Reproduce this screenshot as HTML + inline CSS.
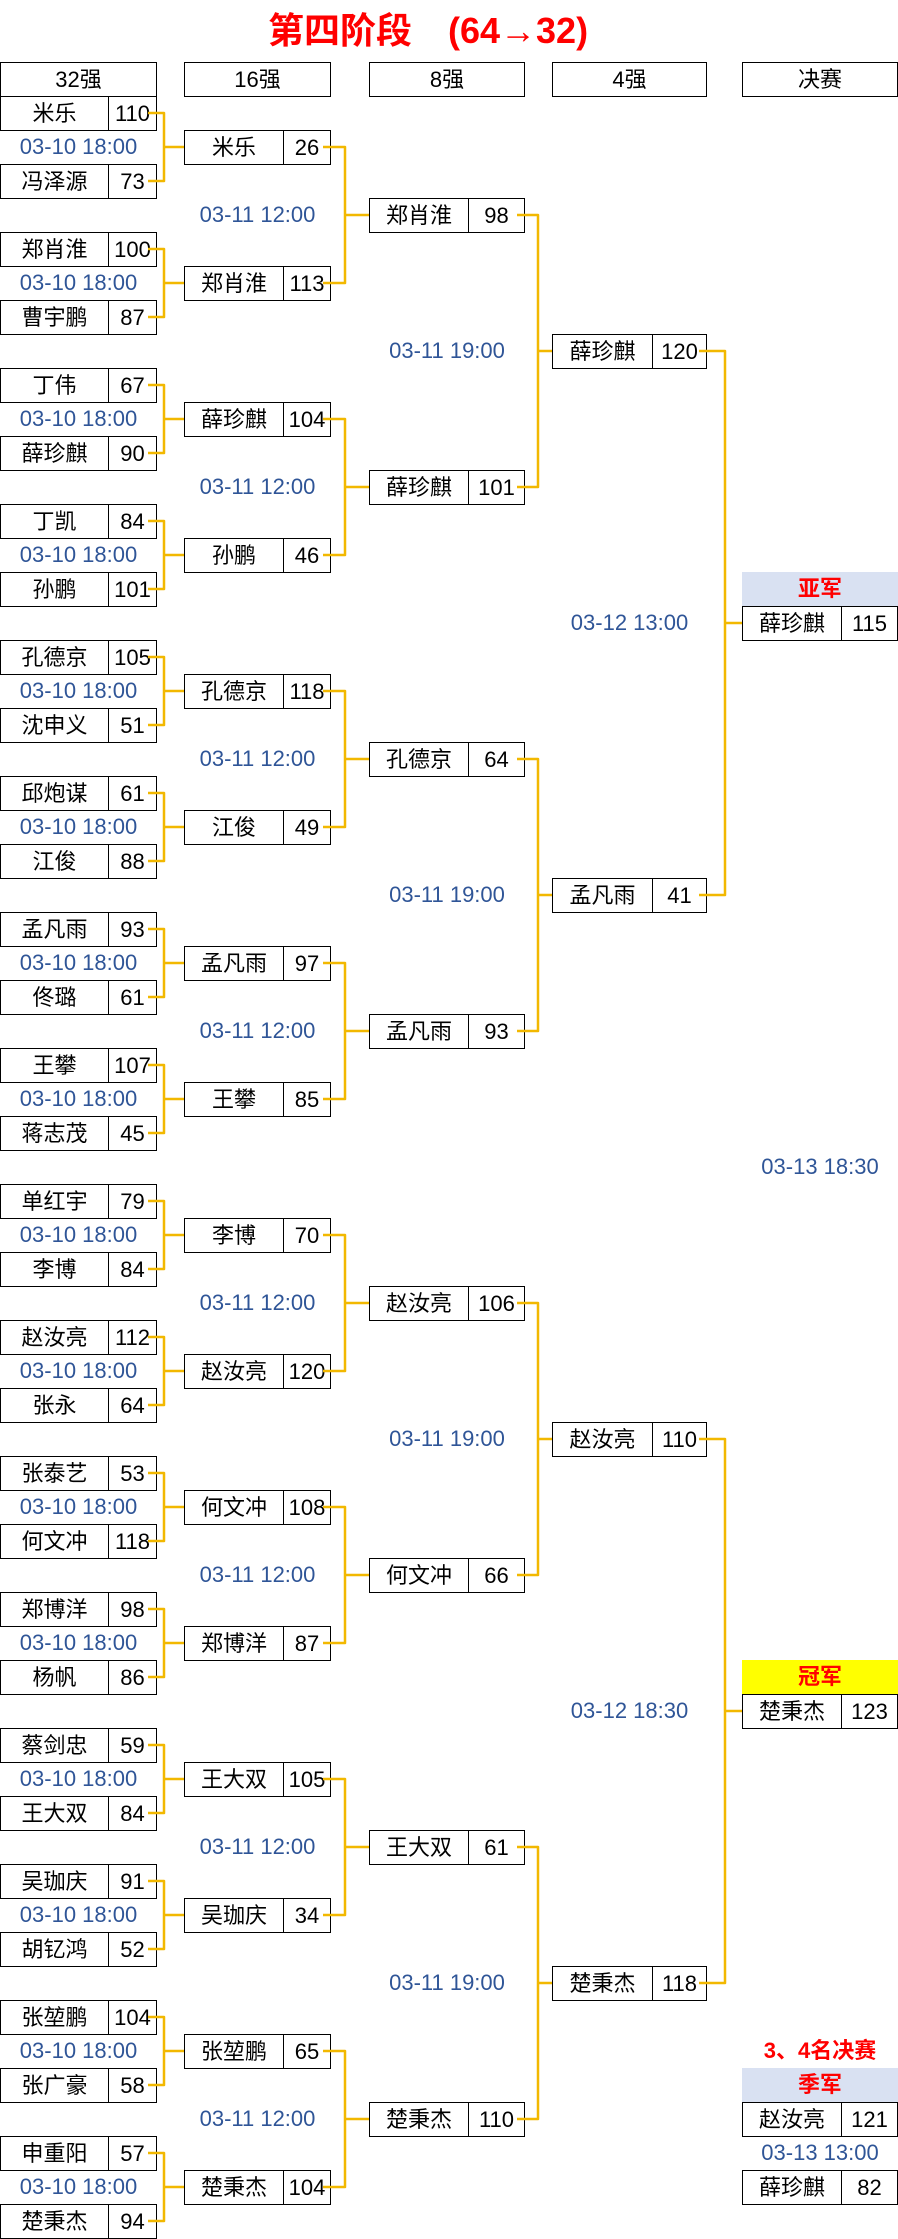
<!DOCTYPE html>
<html><head><meta charset="utf-8"><style>
body{margin:0;width:898px;height:2239px;position:relative;background:#fff;font-family:"Liberation Sans","Noto Sans CJK SC",sans-serif;overflow:hidden}
.b,.h{position:absolute;height:35px;border:1px solid #000;box-sizing:border-box;display:flex;font-size:22px;line-height:33px;background:#fff}
.h{justify-content:center}
.b i{font-style:normal;text-align:center;border-right:1px solid #000;box-sizing:border-box}
.b b{font-weight:normal;flex:1;text-align:center}
.A{left:0;width:157px}.A i{width:108px}
.B{left:184px;width:147px}.B i{width:99px}
.C{left:369px;width:156px}.C i{width:99px}
.D{left:552px;width:155px}.D i{width:100px}
.E{left:742px;width:156px}.E i{width:99px}
.d{position:absolute;height:34px;line-height:34px;font-size:22px;color:#2f5597;text-align:center}
.dA{left:0;width:157px}.dB{left:184px;width:147px}.dC{left:369px;width:156px}.dD{left:552px;width:155px}.dE{left:742px;width:156px}
.l{position:absolute;left:742px;width:156px;height:34px;line-height:34px;text-align:center;color:#f00;font-weight:bold;font-size:22px}
svg{position:absolute;left:0;top:0}
</style></head><body>
<div style="position:absolute;left:268px;top:6px;font-size:36px;font-weight:bold;color:#f00;white-space:nowrap;line-height:50px">第四阶段　(64→32)</div>
<div class="h A" style="top:62px">32强</div><div class="h B" style="top:62px">16强</div><div class="h C" style="top:62px">8强</div><div class="h D" style="top:62px">4强</div><div class="h E" style="top:62px">决赛</div>

<div class="b A" style="top:96px"><i>米乐</i><b>110</b></div><div class="d dA" style="top:130px">03-10 18:00</div><div class="b A" style="top:164px"><i>冯泽源</i><b>73</b></div>
<div class="b A" style="top:232px"><i>郑肖淮</i><b>100</b></div><div class="d dA" style="top:266px">03-10 18:00</div><div class="b A" style="top:300px"><i>曹宇鹏</i><b>87</b></div>
<div class="b A" style="top:368px"><i>丁伟</i><b>67</b></div><div class="d dA" style="top:402px">03-10 18:00</div><div class="b A" style="top:436px"><i>薛珍麒</i><b>90</b></div>
<div class="b A" style="top:504px"><i>丁凯</i><b>84</b></div><div class="d dA" style="top:538px">03-10 18:00</div><div class="b A" style="top:572px"><i>孙鹏</i><b>101</b></div>
<div class="b A" style="top:640px"><i>孔德京</i><b>105</b></div><div class="d dA" style="top:674px">03-10 18:00</div><div class="b A" style="top:708px"><i>沈申义</i><b>51</b></div>
<div class="b A" style="top:776px"><i>邱炮谋</i><b>61</b></div><div class="d dA" style="top:810px">03-10 18:00</div><div class="b A" style="top:844px"><i>江俊</i><b>88</b></div>
<div class="b A" style="top:912px"><i>孟凡雨</i><b>93</b></div><div class="d dA" style="top:946px">03-10 18:00</div><div class="b A" style="top:980px"><i>佟璐</i><b>61</b></div>
<div class="b A" style="top:1048px"><i>王攀</i><b>107</b></div><div class="d dA" style="top:1082px">03-10 18:00</div><div class="b A" style="top:1116px"><i>蒋志茂</i><b>45</b></div>
<div class="b A" style="top:1184px"><i>单红宇</i><b>79</b></div><div class="d dA" style="top:1218px">03-10 18:00</div><div class="b A" style="top:1252px"><i>李博</i><b>84</b></div>
<div class="b A" style="top:1320px"><i>赵汝亮</i><b>112</b></div><div class="d dA" style="top:1354px">03-10 18:00</div><div class="b A" style="top:1388px"><i>张永</i><b>64</b></div>
<div class="b A" style="top:1456px"><i>张泰艺</i><b>53</b></div><div class="d dA" style="top:1490px">03-10 18:00</div><div class="b A" style="top:1524px"><i>何文冲</i><b>118</b></div>
<div class="b A" style="top:1592px"><i>郑博洋</i><b>98</b></div><div class="d dA" style="top:1626px">03-10 18:00</div><div class="b A" style="top:1660px"><i>杨帆</i><b>86</b></div>
<div class="b A" style="top:1728px"><i>蔡剑忠</i><b>59</b></div><div class="d dA" style="top:1762px">03-10 18:00</div><div class="b A" style="top:1796px"><i>王大双</i><b>84</b></div>
<div class="b A" style="top:1864px"><i>吴珈庆</i><b>91</b></div><div class="d dA" style="top:1898px">03-10 18:00</div><div class="b A" style="top:1932px"><i>胡钇鸿</i><b>52</b></div>
<div class="b A" style="top:2000px"><i>张堃鹏</i><b>104</b></div><div class="d dA" style="top:2034px">03-10 18:00</div><div class="b A" style="top:2068px"><i>张广豪</i><b>58</b></div>
<div class="b A" style="top:2136px"><i>申重阳</i><b>57</b></div><div class="d dA" style="top:2170px">03-10 18:00</div><div class="b A" style="top:2204px"><i>楚秉杰</i><b>94</b></div>

<div class="b B" style="top:130px"><i>米乐</i><b>26</b></div>
<div class="b B" style="top:266px"><i>郑肖淮</i><b>113</b></div>
<div class="b B" style="top:402px"><i>薛珍麒</i><b>104</b></div>
<div class="b B" style="top:538px"><i>孙鹏</i><b>46</b></div>
<div class="b B" style="top:674px"><i>孔德京</i><b>118</b></div>
<div class="b B" style="top:810px"><i>江俊</i><b>49</b></div>
<div class="b B" style="top:946px"><i>孟凡雨</i><b>97</b></div>
<div class="b B" style="top:1082px"><i>王攀</i><b>85</b></div>
<div class="b B" style="top:1218px"><i>李博</i><b>70</b></div>
<div class="b B" style="top:1354px"><i>赵汝亮</i><b>120</b></div>
<div class="b B" style="top:1490px"><i>何文冲</i><b>108</b></div>
<div class="b B" style="top:1626px"><i>郑博洋</i><b>87</b></div>
<div class="b B" style="top:1762px"><i>王大双</i><b>105</b></div>
<div class="b B" style="top:1898px"><i>吴珈庆</i><b>34</b></div>
<div class="b B" style="top:2034px"><i>张堃鹏</i><b>65</b></div>
<div class="b B" style="top:2170px"><i>楚秉杰</i><b>104</b></div>
<div class="d dB" style="top:198px">03-11 12:00</div><div class="d dB" style="top:470px">03-11 12:00</div><div class="d dB" style="top:742px">03-11 12:00</div><div class="d dB" style="top:1014px">03-11 12:00</div><div class="d dB" style="top:1286px">03-11 12:00</div><div class="d dB" style="top:1558px">03-11 12:00</div><div class="d dB" style="top:1830px">03-11 12:00</div><div class="d dB" style="top:2102px">03-11 12:00</div>

<div class="b C" style="top:198px"><i>郑肖淮</i><b>98</b></div>
<div class="b C" style="top:470px"><i>薛珍麒</i><b>101</b></div>
<div class="b C" style="top:742px"><i>孔德京</i><b>64</b></div>
<div class="b C" style="top:1014px"><i>孟凡雨</i><b>93</b></div>
<div class="b C" style="top:1286px"><i>赵汝亮</i><b>106</b></div>
<div class="b C" style="top:1558px"><i>何文冲</i><b>66</b></div>
<div class="b C" style="top:1830px"><i>王大双</i><b>61</b></div>
<div class="b C" style="top:2102px"><i>楚秉杰</i><b>110</b></div>
<div class="d dC" style="top:334px">03-11 19:00</div><div class="d dC" style="top:878px">03-11 19:00</div><div class="d dC" style="top:1422px">03-11 19:00</div><div class="d dC" style="top:1966px">03-11 19:00</div>

<div class="b D" style="top:334px"><i>薛珍麒</i><b>120</b></div>
<div class="b D" style="top:878px"><i>孟凡雨</i><b>41</b></div>
<div class="b D" style="top:1422px"><i>赵汝亮</i><b>110</b></div>
<div class="b D" style="top:1966px"><i>楚秉杰</i><b>118</b></div>
<div class="d dD" style="top:606px">03-12 13:00</div><div class="d dD" style="top:1694px">03-12 18:30</div>

<div class="l" style="top:572px;background:#d9e1f2">亚军</div>
<div class="b E" style="top:606px"><i>薛珍麒</i><b>115</b></div>
<div class="d dE" style="top:1150px">03-13 18:30</div>
<div class="l" style="top:1660px;background:#ffff00">冠军</div>
<div class="b E" style="top:1694px"><i>楚秉杰</i><b>123</b></div>
<div class="l" style="top:2034px">3、4名决赛</div>
<div class="l" style="top:2068px;background:#d9e1f2">季军</div>
<div class="b E" style="top:2102px"><i>赵汝亮</i><b>121</b></div>
<div class="d dE" style="top:2136px">03-13 13:00</div>
<div class="b E" style="top:2170px"><i>薛珍麒</i><b>82</b></div>

<svg width="898" height="2239" fill="none" stroke="#f2b800" stroke-width="2.5" stroke-linejoin="round">
<defs>
<path id="a" d="M148 113H164V181H148M164 147H184"/>
<path id="c" d="M323 147H345V283H323M345 215H369"/>
<path id="e" d="M517 215H538V487H517M538 351H552"/>
<path id="g" d="M699 351H725V895H699M725 623H742"/>
</defs>
<use href="#a"/><use href="#a" y="136"/><use href="#a" y="272"/><use href="#a" y="408"/><use href="#a" y="544"/><use href="#a" y="680"/><use href="#a" y="816"/><use href="#a" y="952"/><use href="#a" y="1088"/><use href="#a" y="1224"/><use href="#a" y="1360"/><use href="#a" y="1496"/><use href="#a" y="1632"/><use href="#a" y="1768"/><use href="#a" y="1904"/><use href="#a" y="2040"/>
<use href="#c"/><use href="#c" y="272"/><use href="#c" y="544"/><use href="#c" y="816"/><use href="#c" y="1088"/><use href="#c" y="1360"/><use href="#c" y="1632"/><use href="#c" y="1904"/>
<use href="#e"/><use href="#e" y="544"/><use href="#e" y="1088"/><use href="#e" y="1632"/>
<use href="#g"/><use href="#g" y="1088"/>
</svg>
</body></html>
